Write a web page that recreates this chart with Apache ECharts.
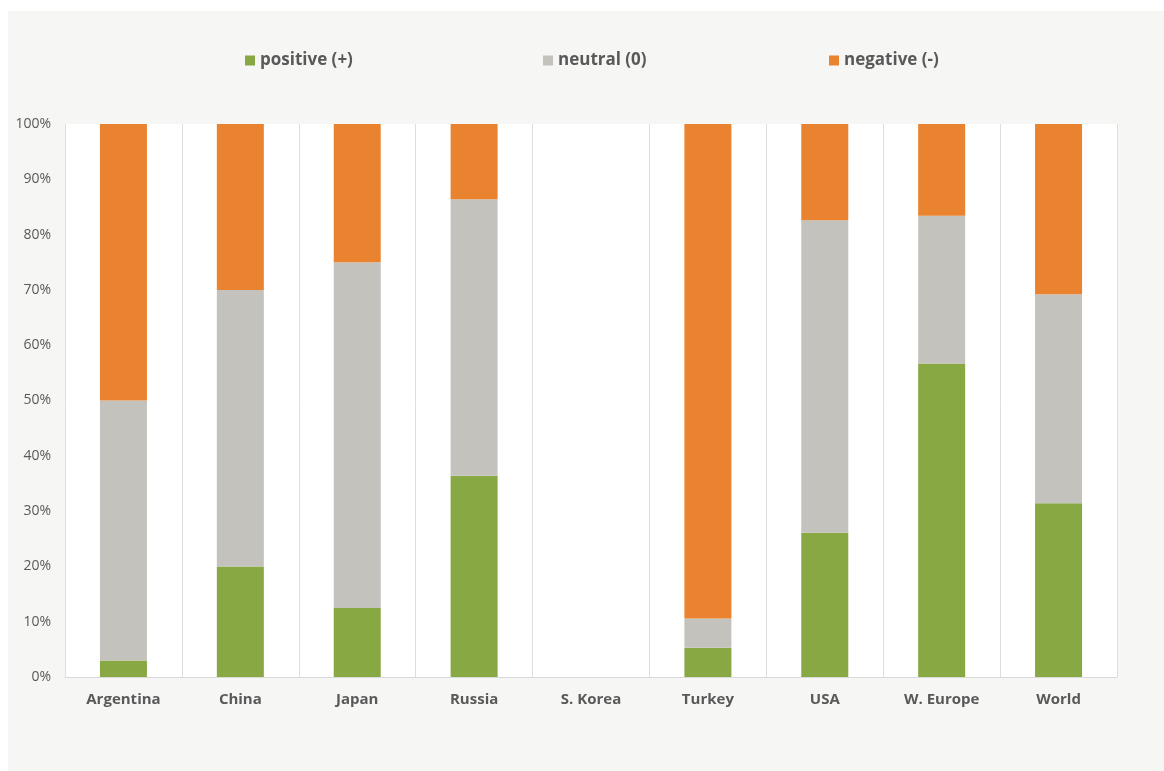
<!DOCTYPE html>
<html>
<head>
<meta charset="utf-8">
<script src="https://cdn.jsdelivr.net/npm/echarts@6/dist/echarts.min.js"></script>
<style>
  html, body { margin: 0; padding: 0; background: #ffffff; }
  #chart { width: 1164px; height: 771px; }
</style>
</head>
<body>
<div id="chart"></div>
<script>
// Share of responses per region (percent of total)
const categories = ['Argentina', 'China', 'Japan', 'Russia', 'S. Korea', 'Turkey', 'USA', 'W. Europe', 'World'];
const positive = [3.0, 20.0, 12.5, 36.4, null, 5.3, 26.1, 56.7, 31.4];
const neutral  = [47.0, 50.0, 62.5, 50.0, null, 5.3, 56.5, 26.7, 37.8];
const negative = [50.0, 30.0, 25.0, 13.6, null, 89.4, 17.4, 16.6, 30.8];
const seriesNames = ['positive (+)', 'neutral (0)', 'negative (-)'];
const seriesColors = ['#87a843', '#c3c2bc', '#ea832f'];
const yTicks = [0, 10, 20, 30, 40, 50, 60, 70, 80, 90, 100];

const FONT = '"Open Sans", Lato, sans-serif';
const chart = echarts.init(document.getElementById('chart'), null, { renderer: 'canvas' });

// one legend block per series so each entry sits at its own spot
const legendLefts = [240, 538, 824];
const legends = seriesNames.map((name, i) => ({
  data: [name],
  left: legendLefts[i],
  top: 47,
  icon: 'rect',
  itemWidth: 10,
  itemHeight: 10,
  selectedMode: false,
  textStyle: { color: '#595959', fontFamily: FONT, fontSize: 17, fontWeight: 'bold' }
}));

const values = [positive, neutral, negative];
const series = seriesNames.map((name, i) => ({
  name: name,
  type: 'bar',
  stack: 'share',
  barWidth: 47,
  itemStyle: { color: seriesColors[i] },
  emphasis: { disabled: true },
  data: values[i]
}));

chart.setOption({
  backgroundColor: '#ffffff',
  animation: false,
  graphic: [{
    type: 'rect',
    z: -10,
    silent: true,
    shape: { x: 8, y: 11, width: 1156, height: 760 },
    style: { fill: '#f6f6f4' }
  }],
  legend: legends,
  grid: {
    left: 65, right: 47, top: 124, bottom: 94,
    show: true, backgroundColor: '#ffffff', borderWidth: 0
  },
  xAxis: {
    type: 'category',
    data: categories,
    axisLine: { show: true, lineStyle: { color: '#d9d9d9', width: 1 } },
    axisTick: { show: false },
    splitLine: { show: true, lineStyle: { color: '#dedede', width: 1 } },
    axisLabel: { color: '#595959', fontFamily: FONT, fontSize: 15, fontWeight: 'bold', margin: 15 }
  },
  yAxis: {
    type: 'value',
    min: yTicks[0],
    max: yTicks[yTicks.length - 1],
    interval: 10,
    axisLine: { show: false },
    axisTick: { show: false },
    splitLine: { show: false },
    axisLabel: { color: '#595959', fontFamily: FONT, fontSize: 14, margin: 14, formatter: '{value}%' }
  },
  series: series
});
</script>
</body>
</html>
